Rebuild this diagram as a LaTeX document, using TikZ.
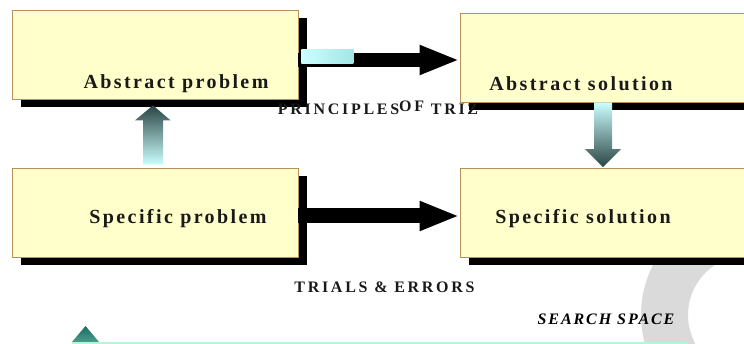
\documentclass[tikz,border=0pt]{standalone}
\usepackage{fontspec}
\setmainfont{Liberation Serif}
\newfontfamily\stagefont[LetterSpace=12]{Liberation Serif}
\newfontfamily\routefont[LetterSpace=17]{Liberation Serif}
\usetikzlibrary{positioning, calc, arrows.meta, shadows}
\definecolor{stagefill}{HTML}{FFFFCC}
\definecolor{stageedge}{HTML}{B8905A}
\definecolor{pipelight}{HTML}{CCFFFF}
\definecolor{pipedark}{HTML}{2A4444}
\definecolor{spacegray}{HTML}{DADADA}
\definecolor{spacemint}{HTML}{B5F5DC}
\definecolor{tealtop}{HTML}{1E6B62}
\definecolor{tealbot}{HTML}{4A9C8C}

\begin{document}
\begin{tikzpicture}[x=1pt, y=-1pt,
    stage/.style={draw=stageedge, line width=0.7pt, fill=stagefill, minimum width=286pt, minimum height=89pt, inner sep=0pt,
      drop shadow={shadow xshift=9pt, shadow yshift=-8pt, fill=black, opacity=1}},
    stagetext/.style={font=\stagefont\bfseries\fontsize{20}{24}\selectfont, anchor=base, inner sep=0pt, text=black!90},
    routetext/.style={font=\routefont\bfseries\fontsize{16}{19}\selectfont, anchor=base, inner sep=0pt, text=black!90},
    bigarrow/.style={line width=#1, -{Triangle[length=40pt, width=27pt]}}]
  \useasboundingbox (0,0) rectangle (744,344);
  \clip (0,0) rectangle (744,344);

  % search space
  \fill[spacegray, even odd rule] (751,315) circle (110pt) (748,315) circle (60pt);
  \draw[spacemint, line width=2.5pt] (72,343) -- (687,343);
  \shade[top color=tealtop, bottom color=tealbot] (72,342) -- (85.5,326) -- (99,342) -- cycle;
  \node[font=\stagefont\bfseries\itshape\fontsize{16}{19}\selectfont, anchor=base, inner sep=0pt] (space) at (606,325) {SEARCH SPACE};

  % the four stages
  \node[stage] (ap) at (155,54.5) {};
  \node[stage] (as) at (603,57.5) {};
  \node[stage] (sp) at (155,212.5) {};
  \node[stage] (ss) at (603,213) {};
  \node[stagetext] (apt) at (176,89) {Abstract problem};
  \node[stagetext] (ast) at (581,91) {Abstract solution};
  \node[stagetext] (spt) at (178,224) {Specific problem};
  \node[stagetext] (sst) at (583,224) {Specific solution};

  % routes
  \coordinate (prtip) at ($(as.west)+(0,2.5)$);
  \draw[bigarrow=14pt] (ap.east |- prtip) -- (prtip);
  \shade[left color=pipelight, right color=pipelight!80!teal] ($(ap.east)+(3,-4.5)$) rectangle ++(52,14);
  \coordinate (tetip) at ($(ss.west)+(0,3)$);
  \draw[bigarrow=15pt] (sp.east |- tetip) -- (tetip);

  \shade[top color=pipedark, bottom color=pipelight] ($(sp.north)+(-12,-3)$) -- ($(ap.south)+(-12,21)$) -- ++(-8,0)
    -- ($(ap.south)+(-2,6)$) -- ++(17.5,15) -- ++(-7.5,0) -- ($(sp.north)+(8,-3)$) -- cycle;
  \shade[top color=pipelight, bottom color=pipedark] ($(as.south)+(-9,0)$) -- ++(18,0) -- ($(ss.north)+(9,-19)$) -- ++(9,0)
    -- ($(ss.north)+(0,-1)$) -- ++(-18,-18) -- ++(9,0) -- cycle;

  \node[routetext] (triz) at (378,115) {PRINCIPLES\raisebox{3pt}{OF}\ TRIZ};
  \node[routetext] (trials) at (384.5,293) {TRIALS \& ERRORS};
\end{tikzpicture}
\end{document}
